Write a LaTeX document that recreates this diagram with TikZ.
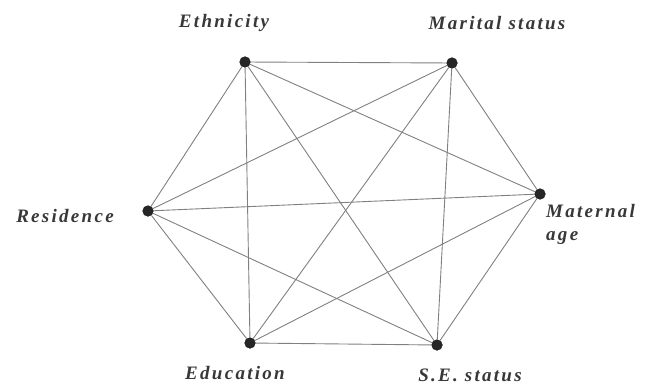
\documentclass[tikz,border=0pt]{standalone}
\usepackage{fontspec}
\setmainfont{Liberation Serif}
\newfontfamily\labfont[LetterSpace=12]{Liberation Serif}
\begin{document}
\begin{tikzpicture}[x=1pt,y=-1pt,
  dot/.style={circle,fill=black!85,inner sep=0pt,minimum size=11pt},
  edge/.style={draw=black!50,line width=0.9pt},
  lab/.style={font=\labfont\fontsize{19}{22}\selectfont\bfseries\itshape,text=black!78,inner sep=0pt}]
\useasboundingbox (0,0) rectangle (653,385);
\node[dot] (eth) at (245,62) {};
\node[dot] (mar) at (452,63) {};
\node[dot] (age) at (540,194) {};
\node[dot] (ses) at (437,345) {};
\node[dot] (edu) at (250,343) {};
\node[dot] (res) at (148,211) {};
\foreach \a/\b in {eth/mar,eth/age,eth/ses,eth/edu,eth/res,
  mar/age,mar/ses,mar/edu,mar/res,
  age/ses,age/edu,age/res,
  ses/edu,ses/res,
  edu/res}
  \draw[edge] (\a) -- (\b);
\foreach \n in {eth,mar,age,ses,edu,res} \node[dot] at (\n) {};
\node[lab] (leth) at (224,23) {Ethnicity};
\node[lab] (lmar) at (497,23) {Marital status};
\node[lab,anchor=west,align=left] (lage) at (546,224) {Maternal\\[1pt]age};
\node[lab] (lres) at (65,216) {Residence};
\node[lab] (ledu) at (235,373) {Education};
\node[lab] (lses) at (470,375) {S.E. status};
\end{tikzpicture}
\end{document}
